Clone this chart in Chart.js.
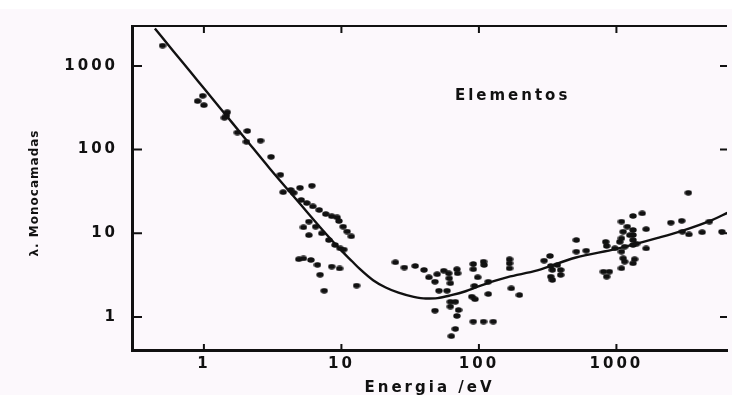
<!DOCTYPE html>
<html>
<head>
<meta charset="utf-8">
<script src="https://cdn.jsdelivr.net/npm/chart.js@4"></script>
<style>
  html, body { margin: 0; padding: 0; }
  body { width: 732px; height: 395px; background: linear-gradient(#ffffff 0 9px, #fcf8fc 9px); overflow: hidden; }
  canvas { display: block; }
</style>
</head>
<body>
<canvas id="grafico" width="732" height="395"></canvas>
<script>
// curva universal
const curvaEnergia = [0.44, 0.6, 0.8, 1, 1.5, 2, 3, 5, 7, 10, 12, 13.6, 17, 21, 26, 33, 41, 50, 63, 80, 98, 130, 162, 266, 500, 1000, 2000, 3000, 5000, 6400];
const curvaLambda = [2800, 1500, 845, 540, 240, 135, 60, 22.5, 11.8, 6.2, 4.6, 3.75, 2.75, 2.25, 1.95, 1.75, 1.66, 1.68, 1.82, 2.03, 2.3, 2.7, 3.0, 3.6, 5.1, 6.5, 8.8, 10.7, 14.5, 17.5];

// pontos experimentais
const pontosEnergia = [
  0.5, 0.98, 0.9, 1.0, 1.48, 1.46, 1.41, 1.75, 2.07, 2.04, 2.58, 3.08, 3.6,
  3.77, 4.28, 4.5, 5.0, 6.1,
  5.1, 5.6, 6.2, 6.9, 7.7, 8.5, 9.3, 9.6, 10.3, 11.0, 11.8,
  5.8, 6.5, 7.2, 8.1, 9.0, 9.8, 10.4, 5.3, 5.8,
  4.9, 5.3, 6.0, 6.7, 8.5, 9.7, 7.0, 7.5, 12.9,
  24.7, 28.7, 34.4, 39.9, 43.3, 49.7, 47.9, 51.2, 47.9, 55.5, 60.3, 60.8, 62, 58.6, 62, 62,
  69.2, 70, 67.4, 71.1, 69.2, 67.4, 63, 91, 108, 109, 91, 98, 92.7, 88.7, 93.7, 91, 108, 127,
  117, 117, 167, 167, 167, 172, 197,
  298, 329, 333, 342, 393, 372, 333, 342, 393, 511, 511, 603, 804, 888, 849, 836, 849, 975,
  1088, 1148, 1320, 1058, 1088, 1119, 1088, 1320, 1540, 1320, 1320, 1320, 1645, 1645, 1119,
  1148, 1355, 1320, 1088, 1200, 1250, 1400, 2487, 2985, 3020, 3366, 4200, 4740, 5850, 3333
];
const pontosLambda = [
  1750, 440, 380, 340, 280, 255, 240, 160, 167, 124, 128, 82, 50,
  31, 33, 30.5, 35, 37,
  25, 23, 21, 19, 17, 16, 15.5, 14, 12, 10.5, 9.2,
  13.8, 12, 10, 8.3, 7.25, 6.6, 6.4, 11.8, 9.5,
  4.9, 5.0, 4.8, 4.2, 4.0, 3.8, 3.2, 2.06, 2.37,
  4.5, 3.9, 4.07, 3.65, 2.98, 3.24, 2.64, 2.06, 1.19, 3.57, 3.33, 2.9, 2.53, 2.06, 1.52, 1.33,
  3.72, 3.33, 1.52, 1.21, 1.03, 0.72, 0.59, 4.3, 4.58, 4.18, 3.72, 2.98, 2.35, 1.75, 1.63, 0.88, 0.88, 0.88,
  2.64, 1.88, 4.9, 4.38, 3.82, 2.2, 1.83,
  4.71, 5.36, 4.07, 3.65, 3.65, 4.18, 3.03, 2.77, 3.18, 8.3, 6.03, 6.2, 3.48, 3.48, 3.03, 7.9, 7.05, 6.62,
  6.03, 6.92, 7.25, 7.9, 8.7, 10.45, 13.8, 16.1, 17.3, 10.95, 9.55, 8.3, 11.2, 6.6, 5.03,
  4.58, 4.9, 4.38, 3.82, 12, 9.5, 7.5, 13.4, 14.1, 10.45, 9.7, 10.3, 13.8, 10.45, 30.5
];

const ticksEnergia = [1, 10, 100, 1000];
const ticksLambda = [1, 10, 100, 1000];
const anotacao = { texto: "Elementos", energia: 170, lambda: 440 };
const tituloY = "λ. Monocamadas";

const tinta = "#111";

// ponto oval, como na figura digitalizada
const ponto = document.createElement("canvas");
ponto.width = 8;
ponto.height = 6;
const pctx = ponto.getContext("2d");
pctx.fillStyle = tinta;
pctx.beginPath();
pctx.ellipse(4, 3, 3.7, 2.7, 0, 0, Math.PI * 2);
pctx.fill();

Chart.defaults.font.family = "'DejaVu Sans', sans-serif";
Chart.defaults.font.weight = "bold";
Chart.defaults.font.size = 15;
Chart.defaults.color = tinta;

const molduraPlugin = {
  id: "moldura",
  beforeDraw(chart) {
    chart.ctx.letterSpacing = "3px";
  },
  afterDraw(chart) {
    const ctx = chart.ctx;
    const { left, right, top, bottom } = chart.chartArea;
    const x = chart.scales.x;
    const y = chart.scales.y;
    ctx.save();
    ctx.strokeStyle = tinta;
    ctx.lineWidth = 2;
    ctx.beginPath();
    ctx.moveTo(left - 1, top);
    ctx.lineTo(right, top);
    ticksEnergia.forEach((v) => {
      const px = x.getPixelForValue(v);
      ctx.moveTo(px, bottom);
      ctx.lineTo(px, bottom - 6);
      ctx.moveTo(px, top);
      ctx.lineTo(px, top + 7);
    });
    ticksLambda.forEach((v) => {
      const py = y.getPixelForValue(v);
      ctx.moveTo(left, py);
      ctx.lineTo(left + 10, py);
      ctx.moveTo(right, py);
      ctx.lineTo(right - 7, py);
    });
    ctx.stroke();

    ctx.fillStyle = tinta;
    ctx.font = "bold 15px 'DejaVu Sans', sans-serif";
    ctx.textAlign = "center";
    ctx.textBaseline = "middle";
    ctx.fillText(anotacao.texto, x.getPixelForValue(anotacao.energia) + 2, y.getPixelForValue(anotacao.lambda));

    // título do eixo y, mais pequeno e apertado que o resto
    ctx.letterSpacing = "1px";
    ctx.font = "bold 12px 'DejaVu Sans', sans-serif";
    ctx.translate(35, (top + bottom) / 2 + 5);
    ctx.rotate(-Math.PI / 2);
    ctx.fillText(tituloY, 0, 0);
    ctx.restore();
  },
};

new Chart(document.getElementById("grafico"), {
  type: "scatter",
  data: {
    datasets: [
      {
        type: "line",
        label: "curva",
        data: curvaEnergia.map((e, i) => ({ x: e, y: curvaLambda[i] })),
        borderColor: tinta,
        borderWidth: 2.4,
        pointRadius: 0,
        tension: 0.4,
        cubicInterpolationMode: "monotone",
        fill: false,
      },
      {
        label: "Elementos",
        data: pontosEnergia.map((e, i) => ({ x: e, y: pontosLambda[i] })),
        pointStyle: ponto,
        pointRadius: 3,
        backgroundColor: tinta,
        borderColor: tinta,
      },
    ],
  },
  options: {
    responsive: false,
    animation: false,
    layout: { padding: { left: 0, top: 26, right: 0, bottom: 0 } },
    plugins: {
      legend: { display: false },
      tooltip: { enabled: false },
    },
    scales: {
      x: {
        type: "logarithmic",
        min: 0.315,
        max: 6370,
        afterBuildTicks: (s) => { s.ticks = ticksEnergia.map((v) => ({ value: v })); },
        afterFit: (s) => { s.height = 45; },
        grid: { drawOnChartArea: false, drawTicks: false },
        border: { color: tinta, width: 3 },
        ticks: { padding: 5, callback: (v) => String(v), maxRotation: 0 },
        title: { display: true, text: "Energia /eV", padding: { top: 0, bottom: -2 } },
      },
      y: {
        type: "logarithmic",
        min: 0.403,
        max: 3000,
        afterBuildTicks: (s) => { s.ticks = ticksLambda.map((v) => ({ value: v })); },
        afterFit: (s) => { s.width = 132; },
        grid: { drawOnChartArea: false, drawTicks: false },
        border: { color: tinta, width: 3 },
        ticks: { padding: 14, callback: (v) => String(v) },
        title: { display: false },
      },
    },
  },
  plugins: [molduraPlugin],
});
</script>
</body>
</html>
